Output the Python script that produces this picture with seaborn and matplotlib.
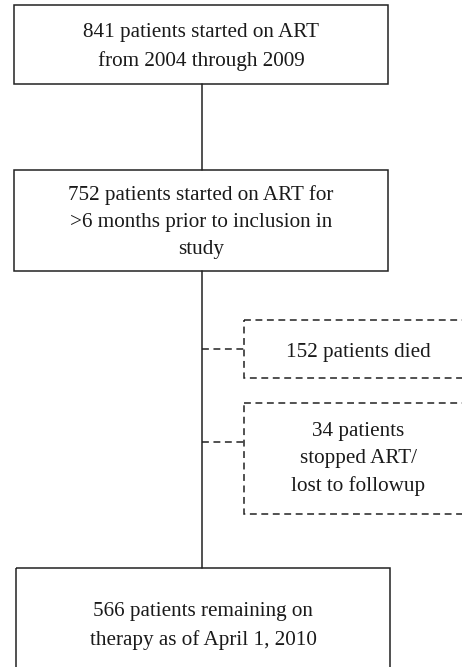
import matplotlib
matplotlib.use("Agg")
import matplotlib.pyplot as plt
import seaborn as sns
import pandas as pd
from matplotlib.patches import Rectangle

sns.set_theme(style="white")
plt.rcParams['font.family'] = ['Liberation Serif', 'DejaVu Serif']

# Flowchart content
main_counts = [841, 752, 566]
main_labels = [
    "841 patients started on ART\nfrom 2004 through 2009",
    "752 patients started on ART for\n>6 months prior to inclusion in\nstudy",
    "566 patients remaining on\ntherapy as of April 1, 2010",
]
excluded_counts = [152, 34]
excluded_labels = [
    "152 patients died",
    "34 patients\nstopped ART/\nlost to followup",
]

# layout (pixels)
main_boxes = [(14, 5, 374, 79), (14, 170, 374, 101), (16, 568, 374, 120)]
side_boxes = [(244, 320, 240, 58), (244, 403, 240, 111)]
connector_y = [349, 442]
spine_x = 202

fig = plt.figure(figsize=(4.62, 6.67), dpi=100)
ax = fig.add_axes([0, 0, 1, 1])
ax.set_xlim(0, 462)
ax.set_ylim(667, 0)
ax.axis("off")

lw = 1.1
fs = 15.2
ls = 1.55
for (x, y, w, h) in main_boxes:
    ax.add_patch(Rectangle((x, y), w, h, fill=False, edgecolor="#222222", lw=lw))
main_text_y = [47, 222, 626]
for lab, ty, (x, y, w, h) in zip(main_labels, main_text_y, main_boxes):
    ax.text(x + w / 2, ty, lab, ha="center", va="center", fontsize=fs,
            linespacing=ls, color="#1a1a1a")

# connectors via seaborn lineplot
seg = pd.DataFrame({
    "x": [spine_x, spine_x, spine_x, spine_x],
    "y": [84, 170, 271, 568],
    "seg": ["a", "a", "b", "b"],
})
sns.lineplot(data=seg, x="x", y="y", units="seg", estimator=None, sort=False,
             color="#222222", lw=lw, ax=ax)

side_text_y = [352, 459]
for (x, y, w, h), lab, ty, cy in zip(side_boxes, excluded_labels, side_text_y, connector_y):
    ax.add_patch(Rectangle((x, y), w, h, fill=False, edgecolor="#222222",
                           lw=lw, linestyle=(0, (4.5, 3))))
    ax.plot([spine_x, x], [cy, cy], color="#222222", lw=lw,
            linestyle=(0, (4.5, 3)))
    ax.text(358, ty, lab, ha="center", va="center", fontsize=fs,
            linespacing=ls, color="#1a1a1a")

fig.savefig("out.png", dpi=100)
